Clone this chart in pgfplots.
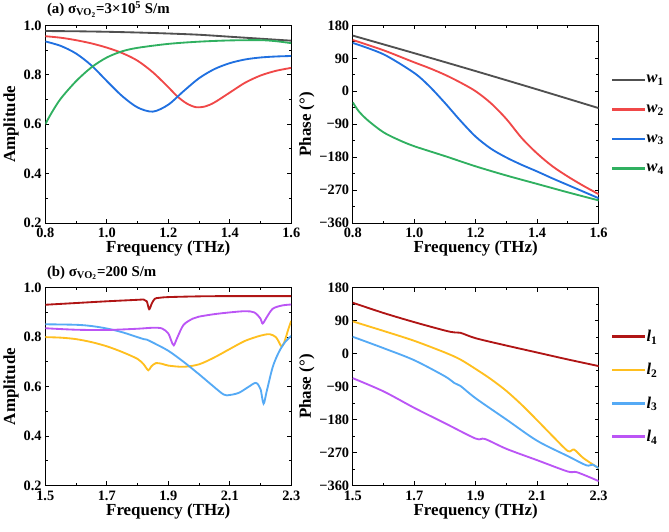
\documentclass[border=0pt]{standalone}
\usepackage{fontspec}
\setmainfont{Liberation Serif}
\usepackage{pgfplots}
\pgfplotsset{compat=1.18}
\definecolor{cw1}{RGB}{80,80,80}
\definecolor{cw2}{RGB}{240,72,72}
\definecolor{cw3}{RGB}{32,112,224}
\definecolor{cw4}{RGB}{48,176,96}
\definecolor{cl1}{RGB}{176,21,21}
\definecolor{cl2}{RGB}{255,191,31}
\definecolor{cl3}{RGB}{85,170,245}
\definecolor{cl4}{RGB}{187,85,245}

\pgfplotsset{
  panel/.style={width=240pt, height=193pt, scale only axis,
    axis line style={line width=1.1pt}, tick align=inside,
    major tick length=4pt, minor tick length=2.5pt,
    every tick/.style={black, line width=0.9pt},
    minor x tick num=1, minor y tick num=1,
    tick label style={font=\bfseries\fontsize{14}{14}\selectfont},
    xticklabel style={yshift=-1.5pt},
    label style={font=\bfseries\fontsize{16.5}{16.5}\selectfont},
    xlabel={Frequency (THz)}, xlabel style={yshift=4pt},
    ylabel style={yshift=-2pt},
    title style={at={(0,1)}, anchor=south west, inner sep=1.5pt, font=\bfseries\fontsize{14.5}{14.5}\selectfont},
    every axis plot/.append style={line width=1.8pt, smooth, tension=0.5}},
  amp/.style={panel, ymin=0.2, ymax=1.0, ytick={0.2,0.4,0.6,0.8,1.0},
    yticklabels={0.2,0.4,0.6,0.8,1.0}, ylabel={Amplitude}},
  pha/.style={panel, ymin=-360, ymax=180, ytick={-360,-270,-180,-90,0,90,180},
    yticklabels={−360,−270,−180,−90,0,90,180}, ylabel={Phase (°)},
    legend style={at={(1.04,0.5)}, anchor=west, draw=none, fill=none,
      nodes={inner ysep=10pt}, font=\bfseries\fontsize{16}{16}\selectfont},
    legend cell align=left,
    legend image code/.code={\fill[##1, draw=none] (0pt,-1.3pt) rectangle (32pt,1.3pt);}},
  fa/.style={xmin=0.8, xmax=1.6, xtick={0.8,1.0,1.2,1.4,1.6}, xticklabels={0.8,1.0,1.2,1.4,1.6}},
  fb/.style={xmin=1.5, xmax=2.3, xtick={1.5,1.7,1.9,2.1,2.3}, xticklabels={1.5,1.7,1.9,2.1,2.3}}
}

\begin{document}
\begin{tikzpicture}
% (a) amplitude
\begin{axis}[amp, fa, at={(0pt,0pt)}, anchor=south west,
  title={(a) σ\textsubscript{VO\textsubscript{2}}=3×10\textsuperscript{5} S/m}]
\addplot[cw1] coordinates {(0.8,0.977)(0.9,0.976)(1.0,0.974)(1.1,0.971)(1.2,0.967)(1.3,0.962)(1.4,0.954)(1.5,0.946)(1.6,0.938)};
\addplot[cw2] coordinates {(0.8,0.956)(0.85,0.950)(0.9,0.940)(0.95,0.927)(1.0,0.910)(1.05,0.888)(1.1,0.857)(1.15,0.810)(1.2,0.750)(1.23,0.712)(1.26,0.684)(1.29,0.669)(1.32,0.672)(1.35,0.688)(1.4,0.728)(1.45,0.768)(1.5,0.797)(1.55,0.816)(1.6,0.828)};
\addplot[cw3] coordinates {(0.8,0.935)(0.85,0.917)(0.9,0.886)(0.95,0.838)(1.0,0.775)(1.05,0.714)(1.1,0.668)(1.15,0.651)(1.2,0.679)(1.25,0.734)(1.3,0.786)(1.35,0.823)(1.4,0.847)(1.45,0.862)(1.5,0.870)(1.55,0.874)(1.6,0.876)};
\addplot[cw4] coordinates {(0.8,0.600)(0.82,0.645)(0.85,0.703)(0.9,0.774)(0.95,0.830)(1.0,0.870)(1.05,0.895)(1.1,0.909)(1.2,0.925)(1.3,0.934)(1.4,0.939)(1.5,0.940)(1.55,0.936)(1.6,0.928)};
\end{axis}
% (a) phase
\begin{axis}[pha, fa, at={(300pt,0pt)}, anchor=south west]
\addplot[cw1] coordinates {(0.8,152)(1.0,104)(1.2,55)(1.4,5)(1.6,-46)};
\addplot[cw2] coordinates {(0.8,140)(0.9,112)(1.0,79)(1.05,63)(1.1,45)(1.15,24)(1.2,0)(1.25,-33)(1.3,-76)(1.35,-128)(1.4,-170)(1.45,-205)(1.5,-233)(1.55,-258)(1.6,-281)};
\addplot[cw3] coordinates {(0.8,132)(0.9,101)(1.0,50)(1.05,13)(1.1,-32)(1.15,-80)(1.2,-124)(1.25,-157)(1.3,-181)(1.35,-201)(1.4,-219)(1.45,-238)(1.5,-256)(1.55,-274)(1.6,-292)};
\addplot[cw4] coordinates {(0.8,-30)(0.82,-55)(0.85,-80)(0.9,-112)(0.95,-133)(1.0,-150)(1.1,-177)(1.2,-205)(1.3,-230)(1.4,-253)(1.5,-276)(1.6,-298)};
\legend{\textit{w}\textsubscript{1},\textit{w}\textsubscript{2},\textit{w}\textsubscript{3},\textit{w}\textsubscript{4}}
\end{axis}
% (b) amplitude
\begin{axis}[amp, fb, at={(0pt,-256pt)}, anchor=south west,
  title={(b) σ\textsubscript{VO\textsubscript{2}}=200 S/m}]
\addplot[cl1] coordinates {(1.5,0.931)(1.6,0.938)(1.7,0.945)(1.8,0.951)(1.82,0.952)(1.83,0.945)(1.838,0.913)(1.846,0.935)(1.856,0.955)(1.87,0.959)(1.9,0.962)(2.0,0.965)(2.1,0.966)(2.3,0.966)};
\addplot[cl2] coordinates {(1.5,0.800)(1.55,0.798)(1.6,0.792)(1.65,0.780)(1.7,0.763)(1.75,0.740)(1.8,0.712)(1.82,0.690)(1.835,0.666)(1.845,0.682)(1.86,0.695)(1.88,0.692)(1.9,0.685)(1.95,0.680)(2.0,0.690)(2.05,0.718)(2.1,0.752)(2.15,0.785)(2.2,0.806)(2.23,0.812)(2.25,0.800)(2.26,0.780)(2.268,0.763)(2.277,0.778)(2.29,0.830)(2.3,0.866)};
\addplot[cl3] coordinates {(1.5,0.852)(1.6,0.850)(1.65,0.845)(1.7,0.835)(1.75,0.820)(1.8,0.800)(1.82,0.792)(1.83,0.790)(1.85,0.778)(1.9,0.745)(1.95,0.700)(2.0,0.650)(2.04,0.608)(2.08,0.568)(2.1,0.566)(2.13,0.575)(2.16,0.598)(2.185,0.615)(2.2,0.590)(2.21,0.531)(2.22,0.580)(2.24,0.680)(2.26,0.740)(2.28,0.780)(2.3,0.805)};
\addplot[cl4] coordinates {(1.5,0.836)(1.6,0.830)(1.7,0.829)(1.8,0.834)(1.85,0.838)(1.88,0.835)(1.9,0.815)(1.91,0.785)(1.918,0.767)(1.93,0.800)(1.95,0.850)(1.98,0.875)(2.0,0.883)(2.05,0.893)(2.1,0.900)(2.15,0.905)(2.18,0.900)(2.2,0.875)(2.207,0.855)(2.22,0.880)(2.24,0.915)(2.27,0.928)(2.3,0.932)};
\end{axis}
% (b) phase
\begin{axis}[pha, fb, at={(300pt,-256pt)}, anchor=south west]
\addplot[cl1] coordinates {(1.5,139)(1.6,111)(1.7,86)(1.8,63)(1.83,58)(1.85,57)(1.9,42)(2.0,22)(2.1,3)(2.2,-16)(2.3,-34)};
\addplot[cl2] coordinates {(1.5,88)(1.6,62)(1.7,35)(1.8,3)(1.85,-16)(1.9,-42)(1.95,-70)(2.0,-102)(2.05,-140)(2.1,-182)(2.15,-225)(2.2,-266)(2.22,-262)(2.25,-285)(2.3,-313)};
\addplot[cl3] coordinates {(1.5,46)(1.6,15)(1.7,-18)(1.8,-62)(1.83,-80)(1.85,-88)(1.9,-122)(2.0,-180)(2.1,-238)(2.2,-280)(2.26,-305)(2.28,-303)(2.3,-313)};
\addplot[cl4] coordinates {(1.5,-67)(1.6,-103)(1.7,-148)(1.8,-190)(1.9,-232)(1.93,-233)(2.0,-260)(2.1,-291)(2.2,-322)(2.23,-324)(2.3,-348)};
\legend{\textit{l}\textsubscript{1},\textit{l}\textsubscript{2},\textit{l}\textsubscript{3},\textit{l}\textsubscript{4}}
\end{axis}
\path ([yshift=-9pt]current bounding box.south);
\end{tikzpicture}
\end{document}
